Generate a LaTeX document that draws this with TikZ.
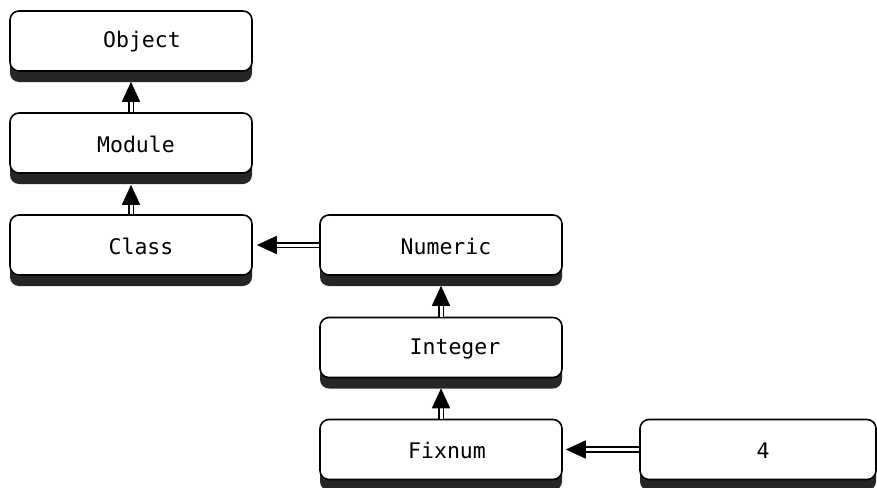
\documentclass[tikz,border=0pt]{standalone}
\usepackage{fontspec}
\setmonofont{DejaVu Sans Mono}
\usetikzlibrary{arrows.meta,shadows,calc}
\tikzset{
  cls/.style={draw=black, line width=1.6pt, fill=white, rounded corners=9pt,
    minimum height=60pt, minimum width=242pt, inner sep=0pt,
    drop shadow={shadow xshift=0pt, shadow yshift=-11pt, opacity=1, fill=black!85}},
  txt/.style={font=\ttfamily\fontsize{21.5}{24}\selectfont},
  inh/.style={draw=black, line width=1.7pt, double=white, double distance=3pt,
    -{Triangle[length=20pt,width=18pt]}}
}
\begin{document}
\begin{tikzpicture}[x=1pt,y=-1pt]
\useasboundingbox (0,0) rectangle (877,487);
\node[cls] (object)  at (131,41) {};
\node[cls] (module)  at (131,143) {};
\node[cls] (class)   at (131,245) {};
\node[cls] (numeric) at (441,245) {};
\node[cls] (integer) at (441,347.5) {};
\node[cls] (fixnum)  at (441,449.5) {};
\node[cls, minimum width=236pt] (four) at (758,449.5) {};
\node[txt] (tobject)  at (142,42) {Object};
\node[txt] (tmodule)  at (136,144) {Module};
\node[txt] (tclass)   at (141,246) {Class};
\node[txt] (tnumeric) at (446,246) {Numeric};
\node[txt] (tinteger) at (455,348.5) {Integer};
\node[txt] (tfixnum)  at (447,450.5) {Fixnum};
\node[txt] (tfour)    at (763,450.5) {4};
\draw[inh] (module.north) -- ($(object.south)+(0,10)$);
\draw[inh] (class.north) -- ($(module.south)+(0,11)$);
\draw[inh] (numeric.west) -- ($(class.east)+(4,0)$);
\draw[inh] (integer.north) -- ($(numeric.south)+(0,10)$);
\draw[inh] (fixnum.north) -- ($(integer.south)+(0,10)$);
\draw[inh] (four.west) -- ($(fixnum.east)+(3,0)$);
\end{tikzpicture}
\end{document}
